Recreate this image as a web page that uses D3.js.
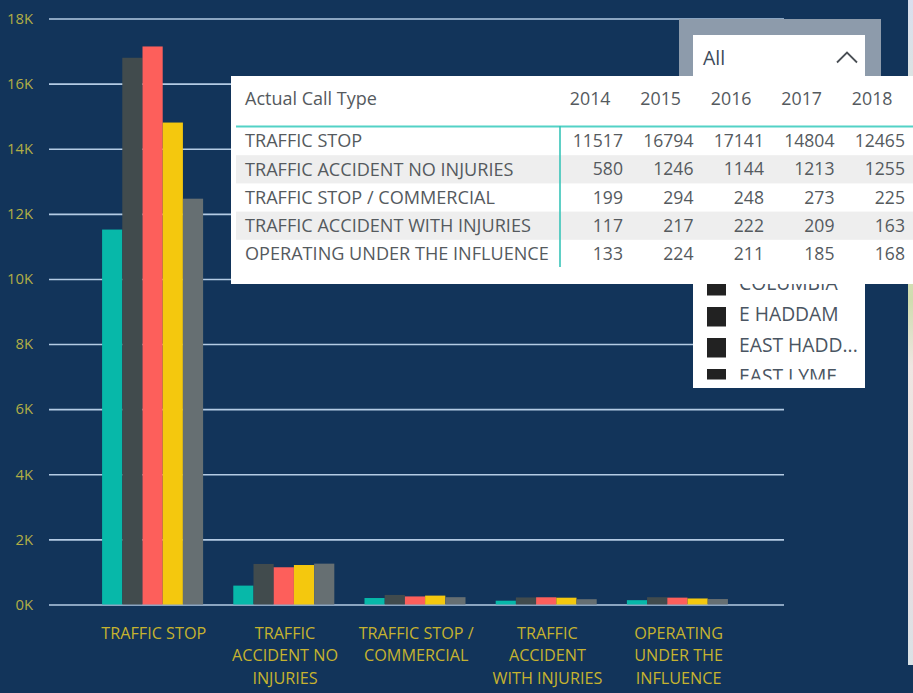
<!DOCTYPE html>
<html>
<head>
<meta charset="utf-8">
<script src="https://cdn.jsdelivr.net/npm/d3@7/dist/d3.min.js"></script>
<style>
html,body{margin:0;padding:0;background:#12345a;overflow:hidden}
svg{display:block}
text{font-family:"Open Sans","Noto Sans",sans-serif}
</style>
</head>
<body>
<svg id="chart" width="913" height="693"></svg>
<script>
const categories = ["TRAFFIC STOP","TRAFFIC ACCIDENT NO INJURIES","TRAFFIC STOP / COMMERCIAL","TRAFFIC ACCIDENT WITH INJURIES","OPERATING UNDER THE INFLUENCE"];
const categoryLines = [["TRAFFIC STOP"],["TRAFFIC","ACCIDENT NO","INJURIES"],["TRAFFIC STOP /","COMMERCIAL"],["TRAFFIC","ACCIDENT","WITH INJURIES"],["OPERATING","UNDER THE","INFLUENCE"]];
const years = ["2014","2015","2016","2017","2018"];
const values2014 = [11517,580,199,117,133];
const values2015 = [16794,1246,294,217,224];
const values2016 = [17141,1144,248,222,211];
const values2017 = [14804,1213,273,209,185];
const values2018 = [12465,1255,225,163,168];
const series = [values2014,values2015,values2016,values2017,values2018];
const seriesColors = ["#07b8a9","#414b4d","#fd5f5b","#f4c80e","#666f72"];
const yTicks = [0,2000,4000,6000,8000,10000,12000,14000,16000,18000];
const tableHeader = "Actual Call Type";
const slicerValue = "All";
const slicerItems = ["COLUMBIA","E HADDAM","EAST HADD...","EAST LYME"];

const svg = d3.select("#chart");
const navy = "#12345a";
svg.append("rect").attr("width",913).attr("height",693).attr("fill",navy);

/* map sliver at the right edge */
const defs = svg.append("defs");
const grad = defs.append("linearGradient").attr("id","mapStrip").attr("x1",0).attr("x2",0).attr("y1",0).attr("y2",1);
[[0,"#d9dfee"],[0.3,"#dfe8d0"],[0.45,"#cfdcae"],[0.55,"#eee6e2"],[0.85,"#e8dde0"],[1,"#d9e2e6"]].forEach(s=>grad.append("stop").attr("offset",s[0]).attr("stop-color",s[1]));
svg.append("rect").attr("x",908).attr("y",0).attr("width",5).attr("height",665).attr("fill","url(#mapStrip)");

const x = d3.scaleBand().domain(categories).range([87,743]).paddingInner(0.23).paddingOuter(0.115);
const xYear = d3.scaleBand().domain(years).range([0,x.bandwidth()]);
const y = d3.scaleLinear().domain([0,18000]).range([604.5,18.5]);

/* y axis and grid */
const yAxis = svg.append("g").attr("transform","translate(49,0)")
  .call(d3.axisLeft(y).tickValues(yTicks).tickFormat(d=>(d/1000)+"K").tickSize(0).tickPadding(16));
yAxis.select(".domain").remove();
yAxis.selectAll("text").attr("font-size",14.8).attr("fill","#b3ae45").style("font-family",'"Open Sans",sans-serif');
yAxis.selectAll(".tick line").attr("x1",0).attr("x2",735).attr("stroke","#b4cbe4").attr("stroke-width",1.6);

/* bars */
svg.append("g").selectAll("g").data(series).join("g")
  .attr("fill",(d,i)=>seriesColors[i])
  .each(function(vals,i){
    d3.select(this).selectAll("rect").data(vals).join("rect")
      .attr("x",(v,j)=>x(categories[j])+xYear(years[i]))
      .attr("width",xYear.bandwidth())
      .attr("y",v=>y(v))
      .attr("height",v=>y(0)-y(v));
  });

/* category labels */
const catG = svg.append("g").selectAll("text").data(categoryLines).join("text")
  .attr("text-anchor","middle").attr("font-size",16.2).attr("fill","#c6b32f")
  .attr("transform",(d,i)=>`translate(${x(categories[i])+x.bandwidth()/2+1.2},639)`);
catG.selectAll("tspan").data(d=>d).join("tspan")
  .attr("x",0).attr("y",(d,i)=>i*22.4).text(d=>d);

/* slicer */
svg.append("rect").attr("x",679).attr("y",19).attr("width",202).attr("height",60).attr("fill","#8d9bab");
svg.append("rect").attr("x",693).attr("y",35).attr("width",172).attr("height",353).attr("fill","#fff");
svg.append("text").attr("x",703).attr("y",65).attr("font-size",19.5).attr("fill","#3d4a5a").text(slicerValue);
svg.append("path").attr("d",d3.line()([[837,62.5],[847,52.5],[857,62.5]])).attr("fill","none").attr("stroke","#4a4f55").attr("stroke-width",1.8);

const clip = defs.append("clipPath").attr("id","slicerClip");
clip.append("rect").attr("x",693).attr("y",270).attr("width",172).attr("height",109.5);
const itemY = d3.scalePoint().domain(slicerItems).range([277,370]);
const items = svg.append("g").attr("clip-path","url(#slicerClip)").selectAll("g").data(slicerItems).join("g");
items.append("rect").attr("x",707).attr("y",d=>itemY(d)-1).attr("width",19).attr("height",19.5).attr("fill","#222");
items.append("text").attr("x",739).attr("y",d=>itemY(d)+6).attr("dy","0.35em").attr("font-size",19.3).attr("fill","#4a5562").text(d=>d);

/* table overlay */
svg.append("rect").attr("x",231).attr("y",76).attr("width",682).attr("height",208).attr("fill","#fff");
const rowY = d3.scaleBand().domain(categories).range([127,268]);
svg.append("g").selectAll("rect").data(categories.filter((d,i)=>i%2===1)).join("rect")
  .attr("x",236).attr("width",677).attr("y",d=>rowY(d)).attr("height",rowY.bandwidth()).attr("fill","#eeeeee");
svg.append("line").attr("x1",236).attr("x2",913).attr("y1",126.5).attr("y2",126.5).attr("stroke","#53d2c6").attr("stroke-width",2);
svg.append("line").attr("x1",560).attr("x2",560).attr("y1",126).attr("y2",267).attr("stroke","#38c4b8").attr("stroke-width",1.6);
const txt = "#555a5e";
svg.append("text").attr("x",245).attr("y",105).attr("font-size",18).attr("fill",txt).text(tableHeader);
const colRight = d3.scalePoint().domain(years).range([623,905]);
svg.append("g").selectAll("text").data(years).join("text")
  .attr("x",d=>colRight(d)-12.5).attr("y",105).attr("text-anchor","end").attr("font-size",17.8).attr("fill",txt).text(d=>d);
svg.append("g").selectAll("text").data(categories).join("text")
  .attr("x",245).attr("y",d=>rowY(d)+rowY.bandwidth()/2).attr("dy","0.35em").attr("font-size",18.1).attr("fill",txt).text(d=>d);
series.forEach((vals,i)=>{
  svg.append("g").selectAll("text").data(vals).join("text")
    .attr("x",colRight(years[i])).attr("y",(v,j)=>rowY(categories[j])+rowY.bandwidth()/2)
    .attr("dy","0.35em").attr("text-anchor","end").attr("font-size",17.6).attr("fill",txt).text(v=>v);
});
</script>
</body>
</html>
